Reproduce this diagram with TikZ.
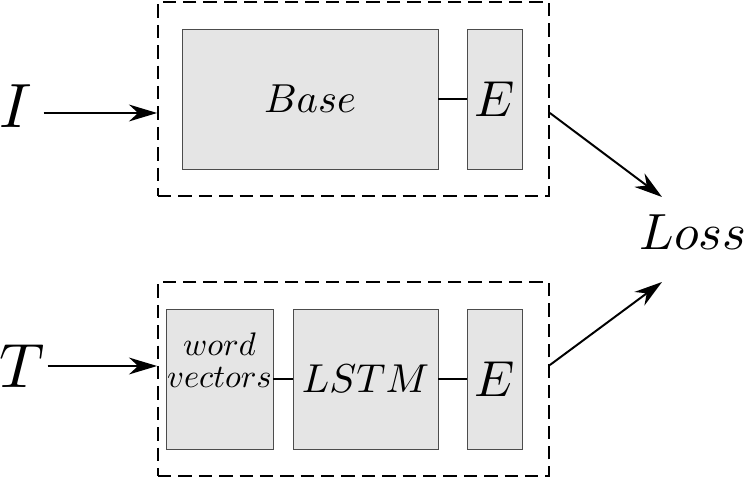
\RequirePackage{fix-cm}
\documentclass[tikz,border=0pt]{standalone}
\usepackage{amsmath}
\usepackage{graphicx}
\usetikzlibrary{arrows.meta}

\newcommand{\sbx}[2]{\scalebox{#1}{$#2$}}

\tikzset{
 blk/.style={draw=black!70, fill=gray!20, line width=0.6pt, inner sep=0pt, minimum height=3.5cm},
 grp/.style={draw, dash pattern=on 9.5pt off 5pt, line width=1.3pt, inner sep=0pt, minimum width=9.775cm, minimum height=4.85cm},
 arr/.style={-{Stealth[length=20pt,width=12pt]}, line width=1.4pt},
 lnk/.style={line width=0.8pt},
 lbl/.style={inner sep=2pt}
}

\begin{document}
\begin{tikzpicture}
 \useasboundingbox (0,0) rectangle (18.675,11.975);
 \node[grp] (imgbox) at (8.8375,9.5) {};
 \node[grp] (txtbox) at (8.8375,2.5) {};

 \node[blk, minimum width=6.4cm] (base) at (7.75,9.5) {\sbx{2.88}{Base}};
 \node[blk, minimum width=1.375cm] (eimg) at (12.3625,9.5) {\sbx{3.6}{E}};
 \draw[lnk] (base) -- (eimg);

 \node[blk, minimum width=2.675cm] (wv) at (5.4875,2.5) {};
 \node[align=center, font={\fontsize{10}{22.75}\selectfont}] (wvtext) at (5.4875,2.96) {\sbx{2.32}{word}\\\sbx{2.32}{vectors}};
 \node[blk, minimum width=3.625cm] (lstm) at (9.1375,2.5) {\sbx{2.87}{LSTM}};
 \node[blk, minimum width=1.375cm] (etxt) at (12.3625,2.5) {\sbx{3.6}{E}};
 \draw[lnk] (wv) -- (lstm);
 \draw[lnk] (lstm) -- (etxt);

 \node[lbl] (I) at (0.4,9.31) {\sbx{4.45}{I}};
 \node[lbl] (T) at (0.55,2.825) {\sbx{4.45}{T}};
 \node[lbl] (loss) at (17.325,6.175) {\sbx{3.62}{Loss}};

 \coordinate (inI) at (imgbox.west |- 0,9.15);
 \coordinate (inT) at (txtbox.west |- 0,2.825);
 \coordinate (outI) at (imgbox.east |- 0,9.15);
 \coordinate (outT) at (txtbox.east |- 0,2.85);
 \coordinate (lossA) at (16.55,7.05);
 \coordinate (lossB) at (16.55,4.925);

 \draw[arr, shorten <=6pt] (I.east |- inI) -- (inI);
 \draw[arr] (T.east |- inT) -- (inT);
 \draw[arr] (outI) -- (lossA);
 \draw[arr] (outT) -- (lossB);
\end{tikzpicture}
\end{document}
